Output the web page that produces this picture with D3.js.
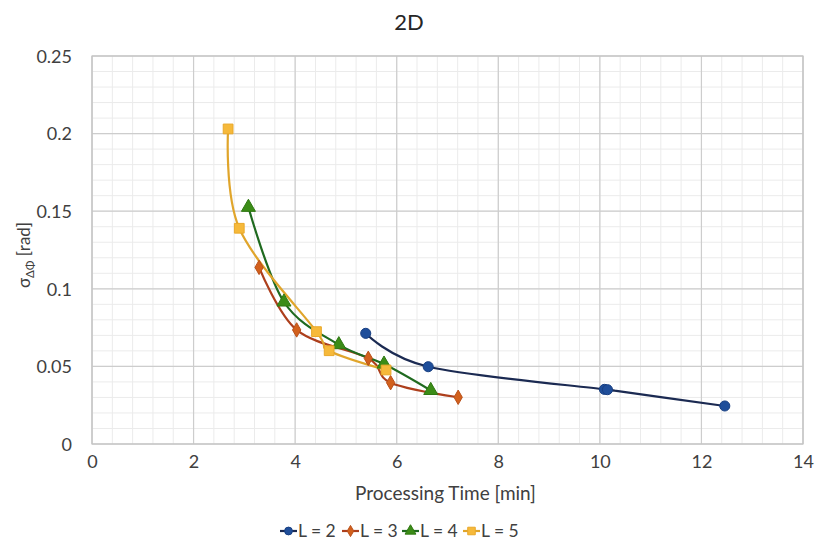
<!DOCTYPE html>
<html>
<head>
<meta charset="utf-8">
<script src="https://cdn.jsdelivr.net/npm/d3@7"></script>
<style>
  html, body { margin: 0; padding: 0; background: #ffffff; }
  svg { display: block; font-family: Lato, "Open Sans", sans-serif; }
</style>
</head>
<body>
<svg id="chart" width="815" height="544"></svg>
<script>
// Processing time [min] against phase-difference standard deviation [rad]
const titleText = "2D";
const xTicks = [0, 2, 4, 6, 8, 10, 12, 14];
const yTicks = [0, 0.05, 0.1, 0.15, 0.2, 0.25];
const seriesNames = ["L = 2", "L = 3", "L = 4", "L = 5"];

const l2Time = [5.39, 6.62, 10.09, 10.15, 12.46];
const l2Sigma = [0.0713, 0.0498, 0.0352, 0.0350, 0.0245];

const l3Time = [3.29, 4.03, 5.44, 5.88, 7.21];
const l3Sigma = [0.1138, 0.0735, 0.0552, 0.0395, 0.0301];

const l4Time = [3.08, 3.78, 4.86, 5.75, 6.67];
const l4Sigma = [0.1525, 0.0915, 0.0640, 0.0515, 0.0345];

const l5Time = [2.68, 2.90, 4.42, 4.67, 5.79];
const l5Sigma = [0.2030, 0.1390, 0.0724, 0.0601, 0.0477];

const series = [
  { name: seriesNames[0], x: l2Time, y: l2Sigma, symbol: d3.symbolCircle, size: 80, fill: "#1f4e9a", stroke: "#183f82", line: "#1b2a52" },
  { name: seriesNames[1], x: l3Time, y: l3Sigma, symbol: d3.symbolDiamond, size: 60, fill: "#d2601c", stroke: "#b9501a", line: "#ad3f1c" },
  { name: seriesNames[2], x: l4Time, y: l4Sigma, symbol: d3.symbolTriangle, size: 85, fill: "#3b8c17", stroke: "#2f7812", line: "#1f6a1f" },
  { name: seriesNames[3], x: l5Time, y: l5Sigma, symbol: d3.symbolSquare, size: 95, fill: "#f6b93a", stroke: "#e9a82a", line: "#e0a52b" }
];

const svg = d3.select("#chart");
const m = { left: 92, right: 815 - 803, top: 56, bottom: 544 - 444 };
const W = 815 - m.left - m.right;
const H = 544 - m.top - m.bottom;
const FONT = 18;
const TEXT = "#404040";

const x = d3.scaleLinear().domain([0, 14]).range([m.left, m.left + W]);
const y = d3.scaleLinear().domain([0, 0.25]).range([m.top + H, m.top]);

// minor grid
const minorX = d3.range(0, 14.0001, 0.4);
const minorY = d3.range(0, 0.25001, 0.01);
const grid = svg.append("g");
grid.selectAll("line.mx").data(minorX).join("line")
  .attr("x1", d => x(d)).attr("x2", d => x(d))
  .attr("y1", m.top).attr("y2", m.top + H)
  .attr("stroke", "#ebebeb").attr("stroke-width", 1);
grid.selectAll("line.my").data(minorY).join("line")
  .attr("y1", d => y(d)).attr("y2", d => y(d))
  .attr("x1", m.left).attr("x2", m.left + W)
  .attr("stroke", "#ebebeb").attr("stroke-width", 1);

// major grid
grid.selectAll("line.gx").data(xTicks).join("line")
  .attr("x1", d => x(d)).attr("x2", d => x(d))
  .attr("y1", m.top).attr("y2", m.top + H)
  .attr("stroke", "#cdcdcd").attr("stroke-width", 1.2);
grid.selectAll("line.gy").data(yTicks).join("line")
  .attr("y1", d => y(d)).attr("y2", d => y(d))
  .attr("x1", m.left).attr("x2", m.left + W)
  .attr("stroke", "#cdcdcd").attr("stroke-width", 1.2);

// plot frame
svg.append("rect")
  .attr("x", m.left).attr("y", m.top).attr("width", W).attr("height", H)
  .attr("fill", "none").attr("stroke", "#c4c4c4").attr("stroke-width", 1.2);

// axes (labels only)
const xAxis = svg.append("g")
  .attr("transform", `translate(0,${m.top + H})`)
  .call(d3.axisBottom(x).tickValues(xTicks).tickSize(0).tickPadding(11).tickFormat(d3.format("d")));
const yAxis = svg.append("g")
  .attr("transform", `translate(${m.left},0)`)
  .call(d3.axisLeft(y).tickValues(yTicks).tickSize(0).tickPadding(20).tickFormat(d => d === 0 ? "0" : String(+d.toFixed(2))));
[xAxis, yAxis].forEach(a => {
  a.select(".domain").remove();
  a.selectAll("text").attr("font-size", FONT).attr("fill", TEXT).attr("font-family", "Lato, 'Open Sans', sans-serif");
});
yAxis.selectAll("text").attr("dy", "0.35em");

// title
svg.append("text")
  .attr("x", 409).attr("y", 30)
  .attr("text-anchor", "middle")
  .attr("font-size", 22).attr("fill", "#262626")
  .text(titleText);

// x axis title
svg.append("text")
  .attr("x", x(7) - 2).attr("y", 500)
  .attr("text-anchor", "middle")
  .attr("font-size", 19).attr("fill", TEXT)
  .text("Processing Time [min]");

// y axis title: sigma with delta-phi subscript
const yt = svg.append("text")
  .attr("transform", `translate(30,255) rotate(-90)`)
  .attr("text-anchor", "middle")
  .attr("font-size", 17).attr("fill", TEXT);
yt.append("tspan").text("σ");
yt.append("tspan").attr("font-size", 11.5).attr("dy", 4).text("ΔΦ");
yt.append("tspan").attr("dy", -4).text(" [rad]");

// series lines and markers
const line = d3.line()
  .x(d => x(d[0])).y(d => y(d[1]))
  .curve(d3.curveCatmullRom.alpha(0));

const plot = svg.append("g");
series.forEach(s => {
  const pts = s.x.map((v, i) => [v, s.y[i]]);
  plot.append("path")
    .datum(pts)
    .attr("d", line)
    .attr("fill", "none")
    .attr("stroke", s.line)
    .attr("stroke-width", 2.2);
});
series.forEach(s => {
  const pts = s.x.map((v, i) => [v, s.y[i]]);
  const sym = d3.symbol().type(s.symbol).size(s.size);
  plot.selectAll(null).data(pts).join("path")
    .attr("transform", d => `translate(${x(d[0])},${y(d[1])})`)
    .attr("d", sym)
    .attr("fill", s.fill)
    .attr("stroke", s.stroke)
    .attr("stroke-width", 1);
});

// legend
const legend = svg.append("g").attr("transform", "translate(0,531)");
const legendX = [280, 342, 402, 463];
series.forEach((s, i) => {
  const g = legend.append("g").attr("transform", `translate(${legendX[i]},0)`);
  g.append("line").attr("x1", 0).attr("x2", 17).attr("y1", 0).attr("y2", 0)
    .attr("stroke", s.line).attr("stroke-width", 2.2);
  g.append("path").attr("transform", "translate(8.5,0)")
    .attr("d", d3.symbol().type(s.symbol).size(s.size * 0.6))
    .attr("fill", s.fill).attr("stroke", s.stroke).attr("stroke-width", 1);
  g.append("text").attr("x", 18).attr("y", 0).attr("dy", "0.35em")
    .attr("font-size", 17.5).attr("fill", TEXT)
    .text(s.name);
});
</script>
</body>
</html>
